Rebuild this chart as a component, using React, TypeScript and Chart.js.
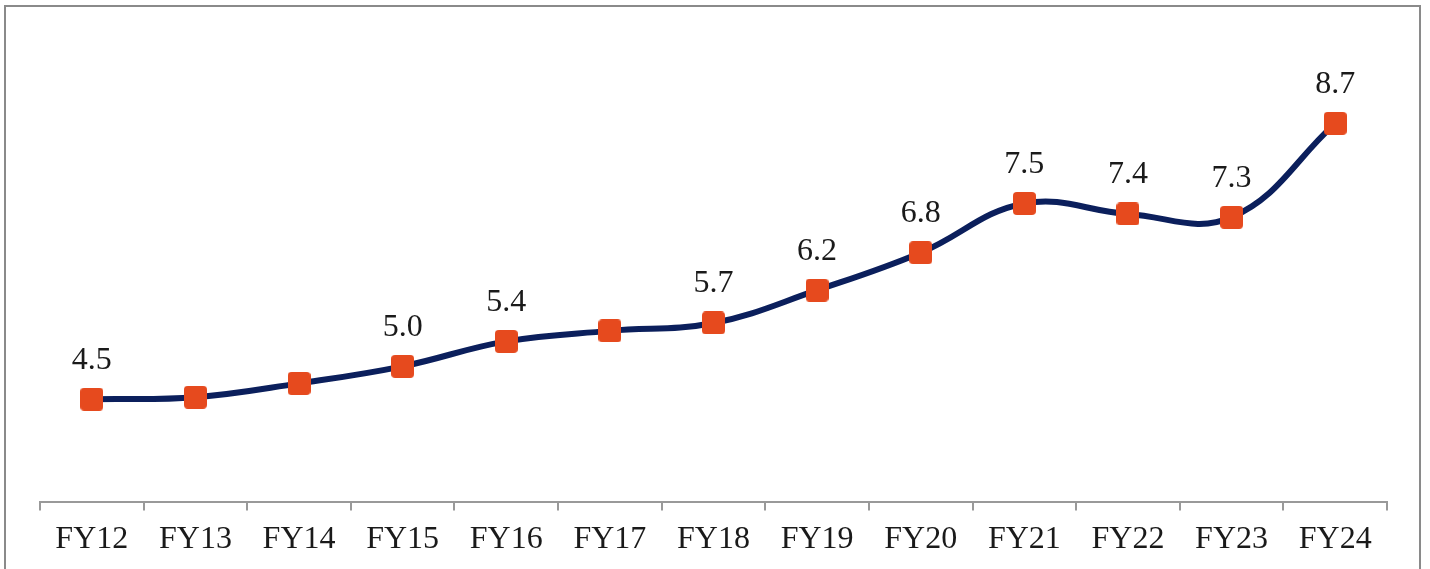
import React, { useEffect, useRef } from "react";
import { Chart, registerables } from "chart.js";

Chart.register(...registerables);

const categories = ["FY12", "FY13", "FY14", "FY15", "FY16", "FY17", "FY18", "FY19", "FY20", "FY21", "FY22", "FY23", "FY24"];
const values = [4.5, 4.53, 4.74, 5.0, 5.38, 5.54, 5.66, 6.16, 6.73, 7.48, 7.32, 7.27, 8.7];
const valueLabels: (string | null)[] = ["4.5", null, null, "5.0", "5.4", null, "5.7", "6.2", "6.8", "7.5", "7.4", "7.3", "8.7"];

const FONT = "'Liberation Serif', 'Times New Roman', serif";

function makeMarker(): HTMLCanvasElement {
  const c = document.createElement("canvas");
  c.width = 23;
  c.height = 23;
  const ctx = c.getContext("2d")!;
  ctx.fillStyle = "#E64A1E";
  const r = 4;
  ctx.beginPath();
  ctx.moveTo(r, 0);
  ctx.lineTo(23 - r, 0);
  ctx.quadraticCurveTo(23, 0, 23, r);
  ctx.lineTo(23, 23 - r);
  ctx.quadraticCurveTo(23, 23, 23 - r, 23);
  ctx.lineTo(r, 23);
  ctx.quadraticCurveTo(0, 23, 0, 23 - r);
  ctx.lineTo(0, r);
  ctx.quadraticCurveTo(0, 0, r, 0);
  ctx.fill();
  return c;
}

const labelPlugin = {
  id: "valueLabels",
  afterDatasetsDraw(chart: any) {
    const ctx = chart.ctx;
    const meta = chart.getDatasetMeta(0);
    ctx.save();
    ctx.font = `32px ${FONT}`;
    ctx.fillStyle = "#1a1a1a";
    ctx.textAlign = "center";
    ctx.textBaseline = "middle";
    meta.data.forEach((pt: any, i: number) => {
      const t = valueLabels[i];
      if (t) ctx.fillText(t, pt.x, pt.y - 39);
    });
    ctx.restore();
  },
};

export default function App() {
  const ref = useRef<HTMLCanvasElement>(null);
  useEffect(() => {
    const marker = makeMarker();
    const chart = new Chart(ref.current!, {
      type: "line",
      data: {
        labels: categories,
        datasets: [
          {
            data: values,
            borderColor: "#0B1F5C",
            borderWidth: 6,
            tension: 0.4,
            pointStyle: marker as any,
            pointRadius: 11,
            pointHoverRadius: 11,
          },
        ],
      },
      options: {
        animation: false,
        responsive: false,
        maintainAspectRatio: false,
        layout: { padding: { left: 40, right: 43, top: 38, bottom: 0 } },
        plugins: { legend: { display: false }, tooltip: { enabled: false } },
        scales: {
          x: {
            offset: true,
            grid: {
              display: true,
              drawOnChartArea: false,
              drawTicks: true,
              tickLength: 9,
              color: "#999999",
              lineWidth: 2,
              offset: true,
            },
            border: { display: true, color: "#999999", width: 2 },
            ticks: {
              font: { family: FONT, size: 32 },
              color: "#1a1a1a",
              padding: 10,
              maxRotation: 0,
              autoSkip: false,
            },
          },
          y: {
            display: false,
            min: 2.94,
            max: 10.0,
          },
        },
      },
      plugins: [labelPlugin],
    });
    return () => chart.destroy();
  }, []);
  return (
    <div style={{ position: "fixed", left: 0, top: 0, width: 1430, height: 569, background: "#fff" }}>
      <div
        style={{
          position: "absolute",
          left: 4,
          top: 5,
          width: 1417,
          height: 600,
          border: "2px solid #8a8a8a",
          boxSizing: "border-box",
        }}
      />
      <canvas ref={ref} width={1430} height={569} style={{ position: "absolute", left: 0, top: 0 }} />
    </div>
  );
}
